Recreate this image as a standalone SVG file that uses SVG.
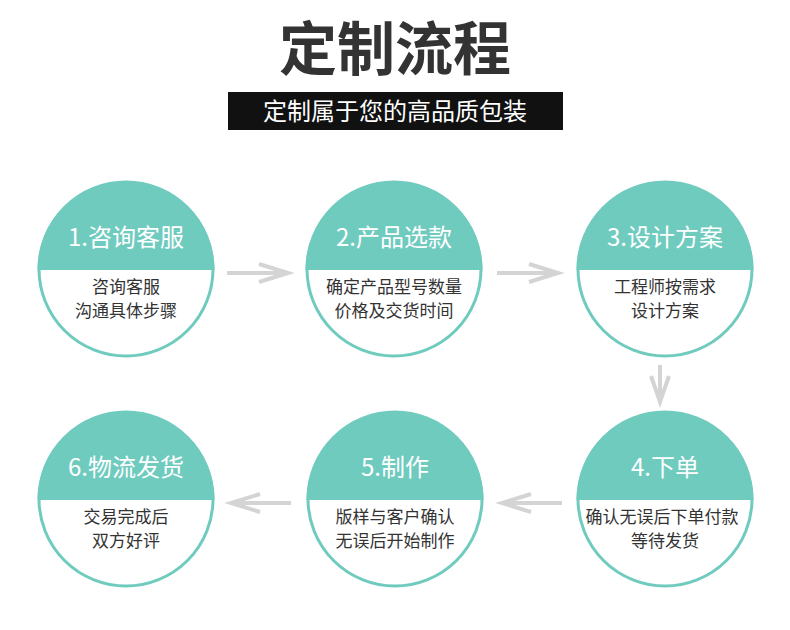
<svg xmlns="http://www.w3.org/2000/svg" width="790" height="630" viewBox="0 0 790 630">
<defs>
<style>
.ring{fill:#fff;stroke:#70cbbf;stroke-width:3}
.cap{fill:#70cbbf}
.hd{font-family:"Noto Sans CJK SC","Noto Sans",sans-serif;font-size:24px;fill:#fff;text-anchor:middle;font-weight:400}
.bd{font-family:"Noto Sans CJK SC","Noto Sans",sans-serif;font-size:17px;fill:#333;text-anchor:middle}
.arr{fill:none;stroke:#d4d4d4;stroke-width:4}
</style>
<g id="node-shape">
<circle class="ring" cx="0" cy="0" r="87"/>
<path class="cap" d="M-88.5,1 A88.5,88.5 0 0 1 88.5,1 Z"/>
</g>
</defs>
<rect width="790" height="630" fill="#fff"/>
<text x="395" y="70" font-family="'Noto Sans CJK SC',sans-serif" font-size="58" font-weight="700" fill="#333" text-anchor="middle">定制流程</text>
<rect x="228" y="92" width="335" height="38" fill="#111"/>
<text x="395" y="120" font-family="'Noto Sans CJK SC',sans-serif" font-size="24" fill="#fff" text-anchor="middle">定制属于您的高品质包装</text>

<g id="connectors">
<path class="arr" d="M227,273 H286 M259,264 L288,273 L259,282"/>
<path class="arr" d="M497,273 H556 M529,264 L558,273 L529,282"/>
<path class="arr" d="M660,365 V401 M651,376 L660,402 L669,376"/>
<path class="arr" d="M562,503 H503 M531,494 L502,503 L531,512"/>
<path class="arr" d="M291,503 H232 M260,494 L231,503 L260,512"/>
</g>

<g id="n1" transform="translate(126,269)">
<use href="#node-shape"/>
<text class="hd" x="0" y="-23">1.咨询客服</text>
<text class="bd" x="0" y="24">咨询客服</text>
<text class="bd" x="0" y="48">沟通具体步骤</text>
</g>
<g id="n2" transform="translate(394,269)">
<use href="#node-shape"/>
<text class="hd" x="0" y="-23">2.产品选款</text>
<text class="bd" x="0" y="24">确定产品型号数量</text>
<text class="bd" x="0" y="48">价格及交货时间</text>
</g>
<g id="n3" transform="translate(665,269)">
<use href="#node-shape"/>
<text class="hd" x="0" y="-23">3.设计方案</text>
<text class="bd" x="0" y="24">工程师按需求</text>
<text class="bd" x="0" y="48">设计方案</text>
</g>
<g id="n4" transform="translate(665,499)">
<use href="#node-shape"/>
<text class="hd" x="0" y="-23">4.下单</text>
<text class="bd" x="-3" y="24">确认无误后下单付款</text>
<text class="bd" x="0" y="48">等待发货</text>
</g>
<g id="n5" transform="translate(395,499)">
<use href="#node-shape"/>
<text class="hd" x="0" y="-23">5.制作</text>
<text class="bd" x="0" y="24">版样与客户确认</text>
<text class="bd" x="0" y="48">无误后开始制作</text>
</g>
<g id="n6" transform="translate(126,499)">
<use href="#node-shape"/>
<text class="hd" x="0" y="-23">6.物流发货</text>
<text class="bd" x="0" y="24">交易完成后</text>
<text class="bd" x="0" y="48">双方好评</text>
</g>
</svg>
